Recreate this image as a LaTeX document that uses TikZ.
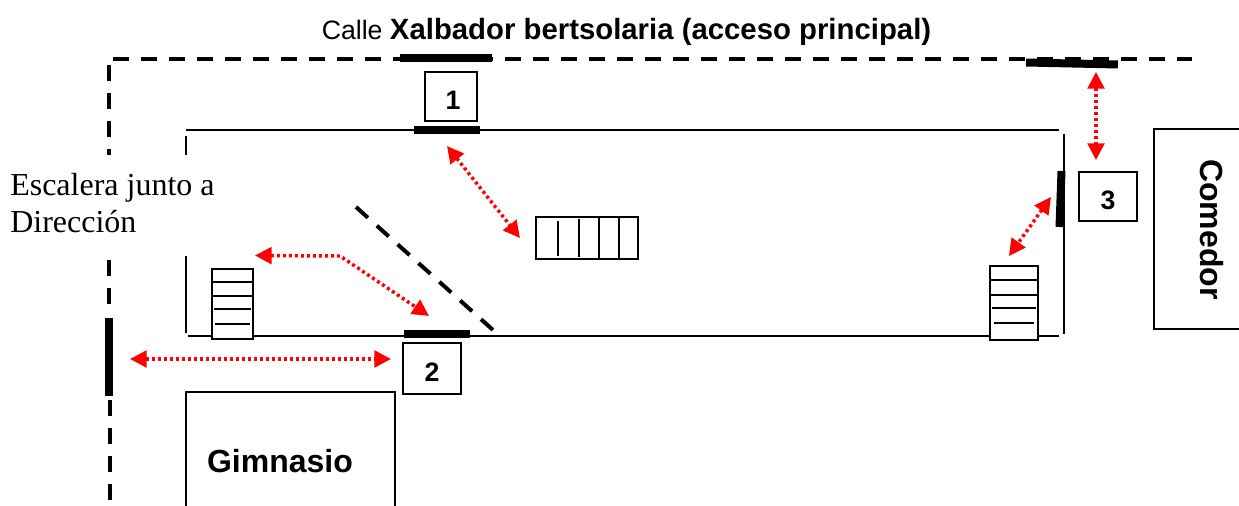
\documentclass[tikz,border=0pt]{standalone}
\usepackage{fontspec}
\setmainfont{Liberation Sans}
\newfontfamily\serifname{Liberation Serif}
\usetikzlibrary{arrows.meta}

\begin{document}
\begin{tikzpicture}
        [x=0.75pt,y=-0.75pt,
        wall/.style={draw=black,line width=1.5pt},
        thinbox/.style={draw=black,line width=1.5pt},
        fence/.style={draw=black,line width=3.4pt,dash pattern=on 12pt off 9pt},
        door/.style={draw=black,line width=6pt},
        walk/.style={draw=red,line width=2.6pt,dash pattern=on 2.25pt off 2.25pt,{Triangle[length=12.5pt,width=12.5pt]}-{Triangle[length=12.5pt,width=12.5pt]}},
        num box/.style={thinbox,inner sep=0pt,text height=20pt,text depth=0pt,font=\fontsize{20}{22}\selectfont\bfseries},
        building/.style={font=\fontsize{24}{28}\selectfont\bfseries,inner sep=0pt,anchor=base}]

    \useasboundingbox (0,0) rectangle (1239,506);

    % street side
    \node[inner sep=0pt,anchor=base,font=\fontsize{20}{24}\selectfont] (street) at (626.5,40) {Calle \fontsize{22}{24}\selectfont\textbf{Xalbador bertsolaria (acceso principal)}};
    \path[fence] (113,59) -- (1192,59);
    \path[fence] (109,65) -- (109,155);
    \path[fence] (109,260) -- (109,305);
    \path[fence] (110,400) -- (110,500);

    % main building
    \path[wall] (186,130) -- (1059,130);
    \path[wall] (188,336) -- (1059,336);
    \path[wall] (186,136) -- (186,155);
    \path[wall] (186,256) -- (186,333);
    \path[wall] (1064,134) -- (1064,334);
    \path[fence,line width=3pt] (356,207) -- (493,330);

    % doors
    \path[door] (400,58.5) -- (492,58.5);
    \path[door] (414,130.5) -- (480,130.5);
    \path[door] (404,334) -- (470,334);
    \path[door] (1026,62.5) -- (1118,64.5);
    \path[door] (1061.5,171) -- (1059.5,227);
    \path[door] (109,318) -- (109,396);

    % stairs
    \path[thinbox,fill=white] (212,269) rectangle (253,339);
    \foreach \y/\a/\b in {282/213/252,296/212/253,309/214/251,324/215/250}
        \path[thinbox] (\a,\y) -- (\b,\y);
    \path[thinbox,fill=white] (990,266) rectangle (1038,340);
    \foreach \y/\a/\b in {280/991/1037,295/990/1038,308/992/1036,323/994/1034}
        \path[thinbox] (\a,\y) -- (\b,\y);
    \path[thinbox] (536,217) rectangle (638,259);
    \foreach \x/\a/\b in {558/221/256,579/219/257,599/217/259,619/217/259}
        \path[thinbox] (\x,\a) -- (\x,\b);

    % numbered points
    \node[num box,minimum width=39pt,minimum height=36.8pt] (one) at (451,96.5) {\hspace{3pt}1};
    \node[num box,minimum width=43.5pt,minimum height=38.2pt] (two) at (432,368.5) {2};
    \node[num box,minimum width=43.5pt,minimum height=36.8pt] (three) at (1108,196.5) {3};

    % other buildings
    \path[thinbox] (186,506) -- (186,392) -- (395,392) -- (395,506);
    \node[building] (gym) at (280,472) {Gimnasio};
    \path[thinbox] (1239,129) -- (1154,129) -- (1154,329) -- (1239,329);
    \node[building,rotate=-90] (diner) at (1200,229.5) {Comedor};

    \node[inner sep=0pt,anchor=base west,align=left,font=\serifname\fontsize{24}{28}\selectfont] (stair note) at (10,232.5) {Escalera junto a\\Dirección};

    % ways out
    \coordinate (w1a) at (447,146);
    \coordinate (w1b) at (520,238);
    \coordinate (w2a) at (255,255.5);
    \coordinate (w2m) at (340,256);
    \coordinate (w2b) at (429,316);
    \coordinate (w3a) at (130,359);
    \coordinate (w3b) at (391,359);
    \coordinate (w4a) at (1096,72);
    \coordinate (w4b) at (1096,160);
    \coordinate (w5a) at (1051,197);
    \coordinate (w5b) at (1009,256);

    \path[walk] (w1a) -- (w1b);
    \path[walk] (w2a) -- (w2m) -- (w2b);
    \path[walk] (w3a) -- (w3b);
    \path[walk] (w4a) -- (w4b);
    \path[walk] (w5a) -- (w5b);

\end{tikzpicture}
\end{document}
